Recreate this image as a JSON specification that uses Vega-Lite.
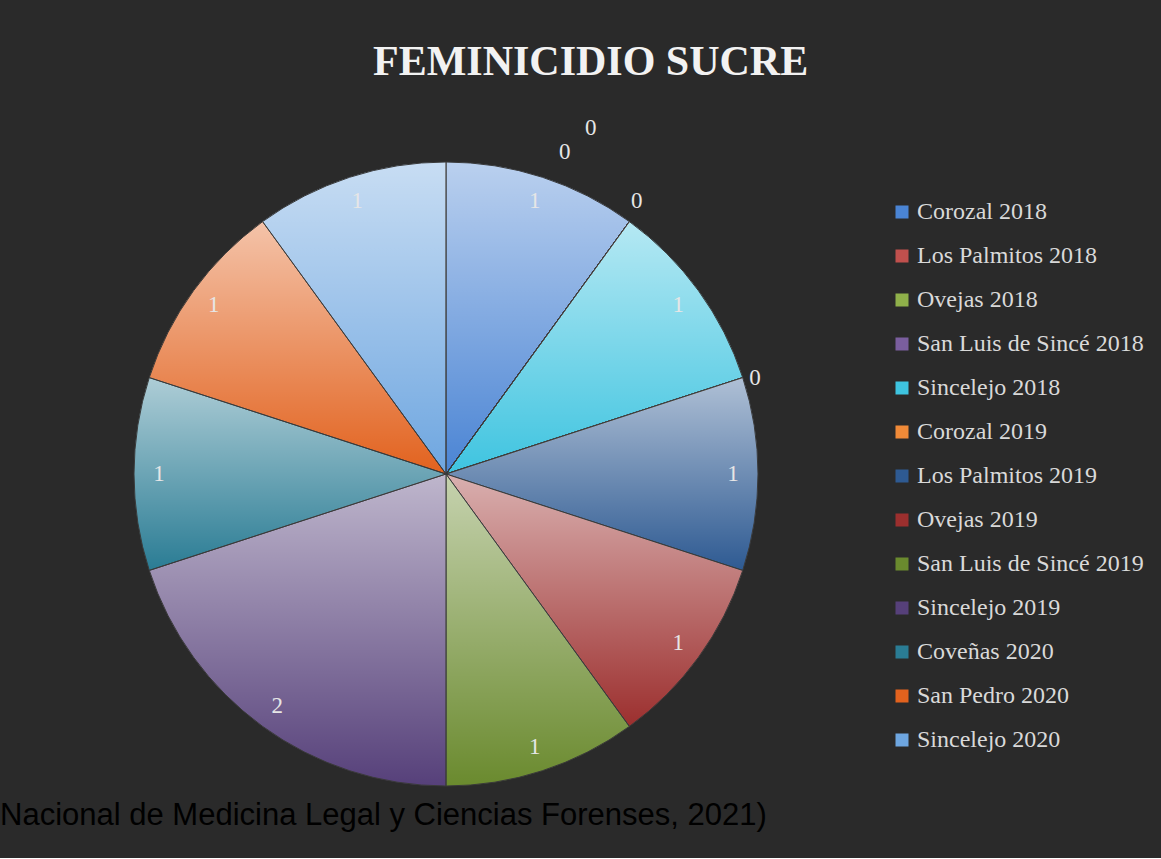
{
  "$schema": "https://vega.github.io/schema/vega-lite/v6.json",
  "background": "#2a2a2a",
  "padding": {"left": 0, "top": 40, "right": 18, "bottom": 27},
  "title": {
    "text": "FEMINICIDIO SUCRE",
    "font": "Liberation Serif",
    "fontSize": 42,
    "fontWeight": "bold",
    "color": "#f2f2f2",
    "anchor": "start",
    "frame": "group",
    "dx": 239,
    "baseline": "alphabetic",
    "offset": 0
  },
  "datasets": {
    "feminicidio": [
      {"i": 1, "label": "Corozal 2018", "value": 1},
      {"i": 2, "label": "Los Palmitos 2018", "value": 0},
      {"i": 3, "label": "Ovejas 2018", "value": 0},
      {"i": 4, "label": "San Luis de Sincé 2018", "value": 0},
      {"i": 5, "label": "Sincelejo 2018", "value": 1},
      {"i": 6, "label": "Corozal 2019", "value": 0},
      {"i": 7, "label": "Los Palmitos 2019", "value": 1},
      {"i": 8, "label": "Ovejas 2019", "value": 1},
      {"i": 9, "label": "San Luis de Sincé 2019", "value": 1},
      {"i": 10, "label": "Sincelejo 2019", "value": 2},
      {"i": 11, "label": "Coveñas 2020", "value": 1},
      {"i": 12, "label": "San Pedro 2020", "value": 1},
      {"i": 13, "label": "Sincelejo 2020", "value": 1}
    ]
  },
  "vconcat": [
    {
      "width": 624,
      "height": 624,
      "data": {"name": "feminicidio"},
      "title": {
        "text": "Nacional de Medicina Legal y Ciencias Forenses, 2021)",
        "orient": "bottom",
        "anchor": "start",
        "frame": "group",
        "dx": -134,
        "offset": 13,
        "font": "Liberation Sans",
        "fontSize": 31,
        "fontWeight": "normal",
        "color": "#000000"
      },
      "layer": [
        {
          "mark": {"type": "arc"},
          "encoding": {
            "theta": {"field": "value", "type": "quantitative", "stack": true},
            "order": {"field": "i", "type": "quantitative"},
            "color": {
              "field": "label",
              "type": "nominal",
              "scale": {
                "domain": ["Corozal 2018", "Los Palmitos 2018", "Ovejas 2018", "San Luis de Sincé 2018", "Sincelejo 2018", "Corozal 2019", "Los Palmitos 2019", "Ovejas 2019", "San Luis de Sincé 2019", "Sincelejo 2019", "Coveñas 2020", "San Pedro 2020", "Sincelejo 2020"],
                "range": ["#4a84d4", "#c0504d", "#8fb04a", "#7a5e9e", "#3ec4e0", "#f08a38", "#2e5a92", "#9c2f2e", "#6a8a2e", "#56407a", "#2a7c94", "#e2621e", "#6ea6e0"]
              },
              "legend": {
                "orient": "none",
                "legendX": 756,
                "legendY": 38,
                "title": null,
                "labelFont": "Liberation Serif",
                "labelFontSize": 24,
                "labelColor": "#d9d9d9",
                "labelLimit": 400,
                "labelOffset": 3,
                "symbolType": "square",
                "symbolSize": 169,
                "symbolStrokeWidth": 0,
                "rowPadding": 20
              }
            }
          }
        },
        {
          "mark": {
            "type": "arc",
            "stroke": "#3a3a3a",
            "strokeWidth": 1,
            "color": {
              "gradient": "linear",
              "x1": 0, "y1": 0, "x2": 0, "y2": 1,
              "stops": [
                {"offset": 0, "color": "rgba(255,255,255,0.62)"},
                {"offset": 1, "color": "rgba(255,255,255,0)"}
              ]
            }
          },
          "encoding": {
            "theta": {"field": "value", "type": "quantitative", "stack": true},
            "order": {"field": "i", "type": "quantitative"},
            "detail": {"field": "label", "type": "nominal"}
          }
        },
        {
          "transform": [{"filter": "datum.value > 0"}],
          "mark": {"type": "text", "radius": 287, "font": "Liberation Serif", "fontSize": 23, "color": "#e6e6e6"},
          "encoding": {
            "theta": {"field": "value", "type": "quantitative", "stack": true},
            "order": {"field": "i", "type": "quantitative"},
            "detail": {"field": "label", "type": "nominal"},
            "text": {"field": "value", "type": "quantitative"}
          }
        },
        {
          "transform": [
            {"stack": "value", "groupby": [], "sort": [{"field": "i", "order": "ascending"}], "as": ["v0", "v1"]},
            {"filter": "datum.label == 'Los Palmitos 2018'"}
          ],
          "mark": {"type": "text", "radius": 340, "dx": -81, "dy": -47, "font": "Liberation Serif", "fontSize": 23, "color": "#e6e6e6"},
          "encoding": {
            "theta": {"field": "v0", "type": "quantitative"},
            "text": {"field": "value", "type": "quantitative"}
          }
        },
        {
          "transform": [
            {"stack": "value", "groupby": [], "sort": [{"field": "i", "order": "ascending"}], "as": ["v0", "v1"]},
            {"filter": "datum.label == 'Ovejas 2018'"}
          ],
          "mark": {"type": "text", "radius": 340, "dx": -55, "dy": -71, "font": "Liberation Serif", "fontSize": 23, "color": "#e6e6e6"},
          "encoding": {
            "theta": {"field": "v0", "type": "quantitative"},
            "text": {"field": "value", "type": "quantitative"}
          }
        },
        {
          "transform": [
            {"stack": "value", "groupby": [], "sort": [{"field": "i", "order": "ascending"}], "as": ["v0", "v1"]},
            {"filter": "datum.label == 'San Luis de Sincé 2018'"}
          ],
          "mark": {"type": "text", "radius": 340, "dx": -9, "dy": 2, "font": "Liberation Serif", "fontSize": 23, "color": "#e6e6e6"},
          "encoding": {
            "theta": {"field": "v0", "type": "quantitative"},
            "text": {"field": "value", "type": "quantitative"}
          }
        },
        {
          "transform": [
            {"stack": "value", "groupby": [], "sort": [{"field": "i", "order": "ascending"}], "as": ["v0", "v1"]},
            {"filter": "datum.label == 'Corozal 2019'"}
          ],
          "mark": {"type": "text", "radius": 325, "dy": 4, "font": "Liberation Serif", "fontSize": 23, "color": "#e6e6e6"},
          "encoding": {
            "theta": {"field": "v0", "type": "quantitative"},
            "text": {"field": "value", "type": "quantitative"}
          }
        }
      ]
    }
  ],
  "config": {"view": {"stroke": null}, "concat": {"spacing": 0}}
}
